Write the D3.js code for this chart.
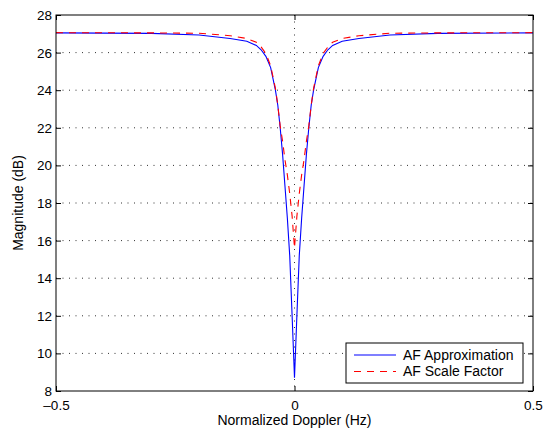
<!DOCTYPE html>
<html>
<head>
<meta charset="utf-8">
<script src="https://cdn.jsdelivr.net/npm/d3@7"></script>
<style>
  body { margin: 0; background: #fff; }
  text { font-family: "Liberation Sans", Arial, sans-serif; font-size: 14px; fill: #000; }
</style>
</head>
<body>
<div class="chart"></div>
<script>
// Doppler samples (Hz, normalized)
var doppler = [-0.5, -0.3, -0.2, -0.135, -0.1, -0.08, -0.07, -0.06, -0.05, -0.04, -0.035, -0.03, -0.025, -0.02, -0.015, -0.01, -0.005, 0,
  0.005, 0.01, 0.015, 0.02, 0.025, 0.03, 0.035, 0.04, 0.05, 0.06, 0.07, 0.08, 0.1, 0.135, 0.2, 0.3, 0.5];

// AF Approximation (dB)
var afApprox = [27.05, 27.02, 26.94, 26.75, 26.6, 26.38, 26.15, 25.8, 25.2, 24.0, 23.2, 22.0, 20.6, 18.9, 17.2, 15.2, 12.0, 8.7,
  12.0, 15.2, 17.2, 18.9, 20.6, 22.0, 23.2, 24.0, 25.2, 25.8, 26.15, 26.38, 26.6, 26.75, 26.94, 27.02, 27.05];

// AF Scale Factor (dB)
var afScale = [27.06, 27.05, 27.03, 26.9, 26.75, 26.55, 26.3, 25.95, 25.3, 24.1, 23.2, 22.1, 21.3, 20.3, 19.5, 18.5, 17.3, 15.6,
  17.3, 18.5, 19.5, 20.3, 21.3, 22.1, 23.2, 24.1, 25.3, 25.95, 26.3, 26.55, 26.75, 26.9, 27.03, 27.05, 27.06];

var xTicks = [-0.5, 0, 0.5];
var yTicks = [8, 10, 12, 14, 16, 18, 20, 22, 24, 26, 28];
var seriesNames = ["AF Approximation", "AF Scale Factor"];

var svgWidth = 550;
var svgHeight = 432;
var margin = { top: 15, right: 17, bottom: 41, left: 56 };
var width = svgWidth - margin.left - margin.right;
var height = svgHeight - margin.top - margin.bottom;

var svg = d3.select(".chart")
  .append("svg")
  .attr("width", svgWidth)
  .attr("height", svgHeight);

var chartGroup = svg.append("g")
  .attr("transform", `translate(${margin.left}, ${margin.top})`);

var xScale = d3.scaleLinear().domain([-0.5, 0.5]).range([0, width]);
var yScale = d3.scaleLinear().domain([8, 28]).range([height, 0]);

// grid
chartGroup.append("g")
  .selectAll("line")
  .data(yTicks.slice(1, -1))
  .enter()
  .append("line")
  .attr("x1", 0)
  .attr("x2", width)
  .attr("y1", d => yScale(d))
  .attr("y2", d => yScale(d))
  .attr("stroke", "#333")
  .attr("stroke-width", 1)
  .attr("stroke-dasharray", "1,5.5");

chartGroup.append("line")
  .attr("x1", xScale(0))
  .attr("x2", xScale(0))
  .attr("y1", 0)
  .attr("y2", height)
  .attr("stroke", "#333")
  .attr("stroke-width", 1)
  .attr("stroke-dasharray", "1,5.5");

// axes, ticks inward
var bottomAxis = d3.axisBottom(xScale).tickValues(xTicks).tickSizeInner(-5).tickSizeOuter(0)
  .tickFormat(d => d < 0 ? "\u2013" + Math.abs(d) : d);
var topAxis = d3.axisTop(xScale).tickValues(xTicks).tickSizeInner(-5).tickSizeOuter(0).tickFormat("");
var leftAxis = d3.axisLeft(yScale).tickValues(yTicks).tickSizeInner(-5).tickSizeOuter(0);
var rightAxis = d3.axisRight(yScale).tickValues(yTicks).tickSizeInner(-5).tickSizeOuter(0).tickFormat("");

var gx = chartGroup.append("g").attr("transform", `translate(0, ${height})`).call(bottomAxis);
chartGroup.append("g").call(topAxis);
var gy = chartGroup.append("g").call(leftAxis);
chartGroup.append("g").attr("transform", `translate(${width}, 0)`).call(rightAxis);

chartGroup.selectAll(".domain").remove();
chartGroup.selectAll(".tick line").attr("stroke", "#000");
gx.selectAll("text").attr("y", 9).attr("dy", "0.71em").style("font-size", "13.5px").attr("fill", "#000");
gy.selectAll("text").attr("x", -4).attr("dy", "0.34em").style("font-size", "13.5px").attr("fill", "#000");

// lines
var line = d3.line()
  .x((d, i) => xScale(doppler[i]))
  .y(d => yScale(d));

chartGroup.append("path")
  .datum(afApprox)
  .attr("fill", "none")
  .attr("stroke", "#0000ff")
  .attr("stroke-width", 1.1)
  .attr("d", line);

chartGroup.append("path")
  .datum(afScale)
  .attr("fill", "none")
  .attr("stroke", "#ff0000")
  .attr("stroke-width", 1.1)
  .attr("stroke-dasharray", "7,6")
  .attr("d", line);

// box
chartGroup.append("rect")
  .attr("width", width)
  .attr("height", height)
  .attr("fill", "none")
  .attr("stroke", "#000")
  .attr("stroke-width", 1);

// legend
var legend = chartGroup.append("g")
  .attr("transform", `translate(${346 - margin.left}, ${343 - margin.top})`);

legend.append("rect")
  .attr("width", 177)
  .attr("height", 40)
  .attr("fill", "#fff")
  .attr("stroke", "#000")
  .attr("stroke-width", 1);

var colors = ["#0000ff", "#ff0000"];
var dashes = [null, "7,6"];
seriesNames.forEach(function(name, i) {
  legend.append("line")
    .attr("x1", 8).attr("x2", 50)
    .attr("y1", 12 + i * 16.5).attr("y2", 12 + i * 16.5)
    .attr("stroke", colors[i])
    .attr("stroke-width", 1.1)
    .attr("stroke-dasharray", dashes[i]);
  legend.append("text")
    .attr("x", 57)
    .attr("y", 12 + i * 16.5)
    .attr("dy", "0.35em")
    .text(name);
});

// axis labels
svg.append("text")
  .attr("transform", "rotate(-90)")
  .attr("x", -(margin.top + height / 2))
  .attr("y", 23)
  .attr("text-anchor", "middle")
  .text("Magnitude (dB)");

svg.append("text")
  .attr("x", margin.left + width / 2)
  .attr("y", 425)
  .attr("text-anchor", "middle")
  .text("Normalized Doppler (Hz)");
</script>
</body>
</html>
